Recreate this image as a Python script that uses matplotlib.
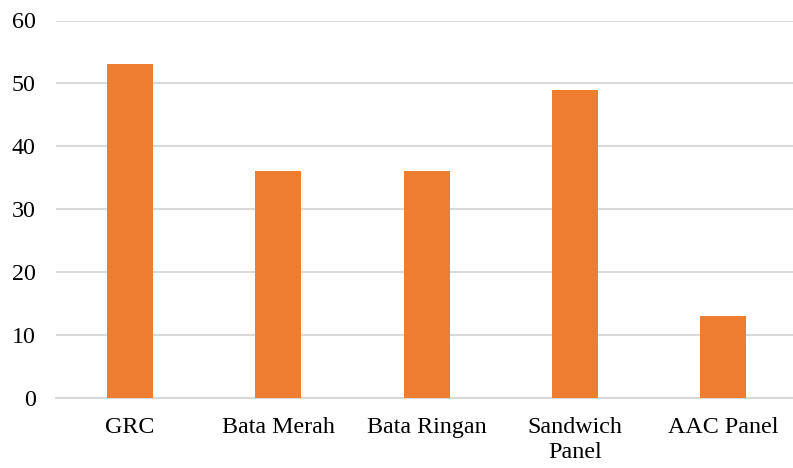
import matplotlib

matplotlib.use("Agg")
import matplotlib.pyplot as plt

categories = ["GRC", "Bata Merah", "Bata Ringan", "Sandwich\nPanel", "AAC Panel"]
values = [53, 36, 36, 49, 13]
y_ticks = [0, 10, 20, 30, 40, 50, 60]

plt.rcParams["font.family"] = ["Liberation Serif", "DejaVu Serif"]

fig = plt.figure(figsize=(7.93, 4.68), dpi=100)
ax = fig.add_axes([56 / 793, 1 - 397.5 / 468, 1 - 56 / 793, (397.5 - 20.5) / 468])

x = list(range(len(categories)))
ax.bar(x, values, width=0.31, color="#ED7D31", zorder=3)

ax.set_xlim(-0.5, -0.5 + 737 / 148.25)
ax.set_ylim(0, 60)
ax.set_yticks(y_ticks)
ax.set_xticks(x)
ax.set_xticklabels(categories, fontsize=17.3, linespacing=1.25)
ax.tick_params(axis="y", labelsize=17.3, length=0, pad=14.5)
ax.tick_params(axis="x", length=0, pad=14)
ax.grid(axis="y", color="#d9d9d9", linewidth=1.5, zorder=0)
for side in ["top", "right", "left"]:
    ax.spines[side].set_visible(False)
ax.spines["bottom"].set_color("#d9d9d9")
ax.spines["bottom"].set_linewidth(1.5)

fig.savefig("out.png", dpi=100)
